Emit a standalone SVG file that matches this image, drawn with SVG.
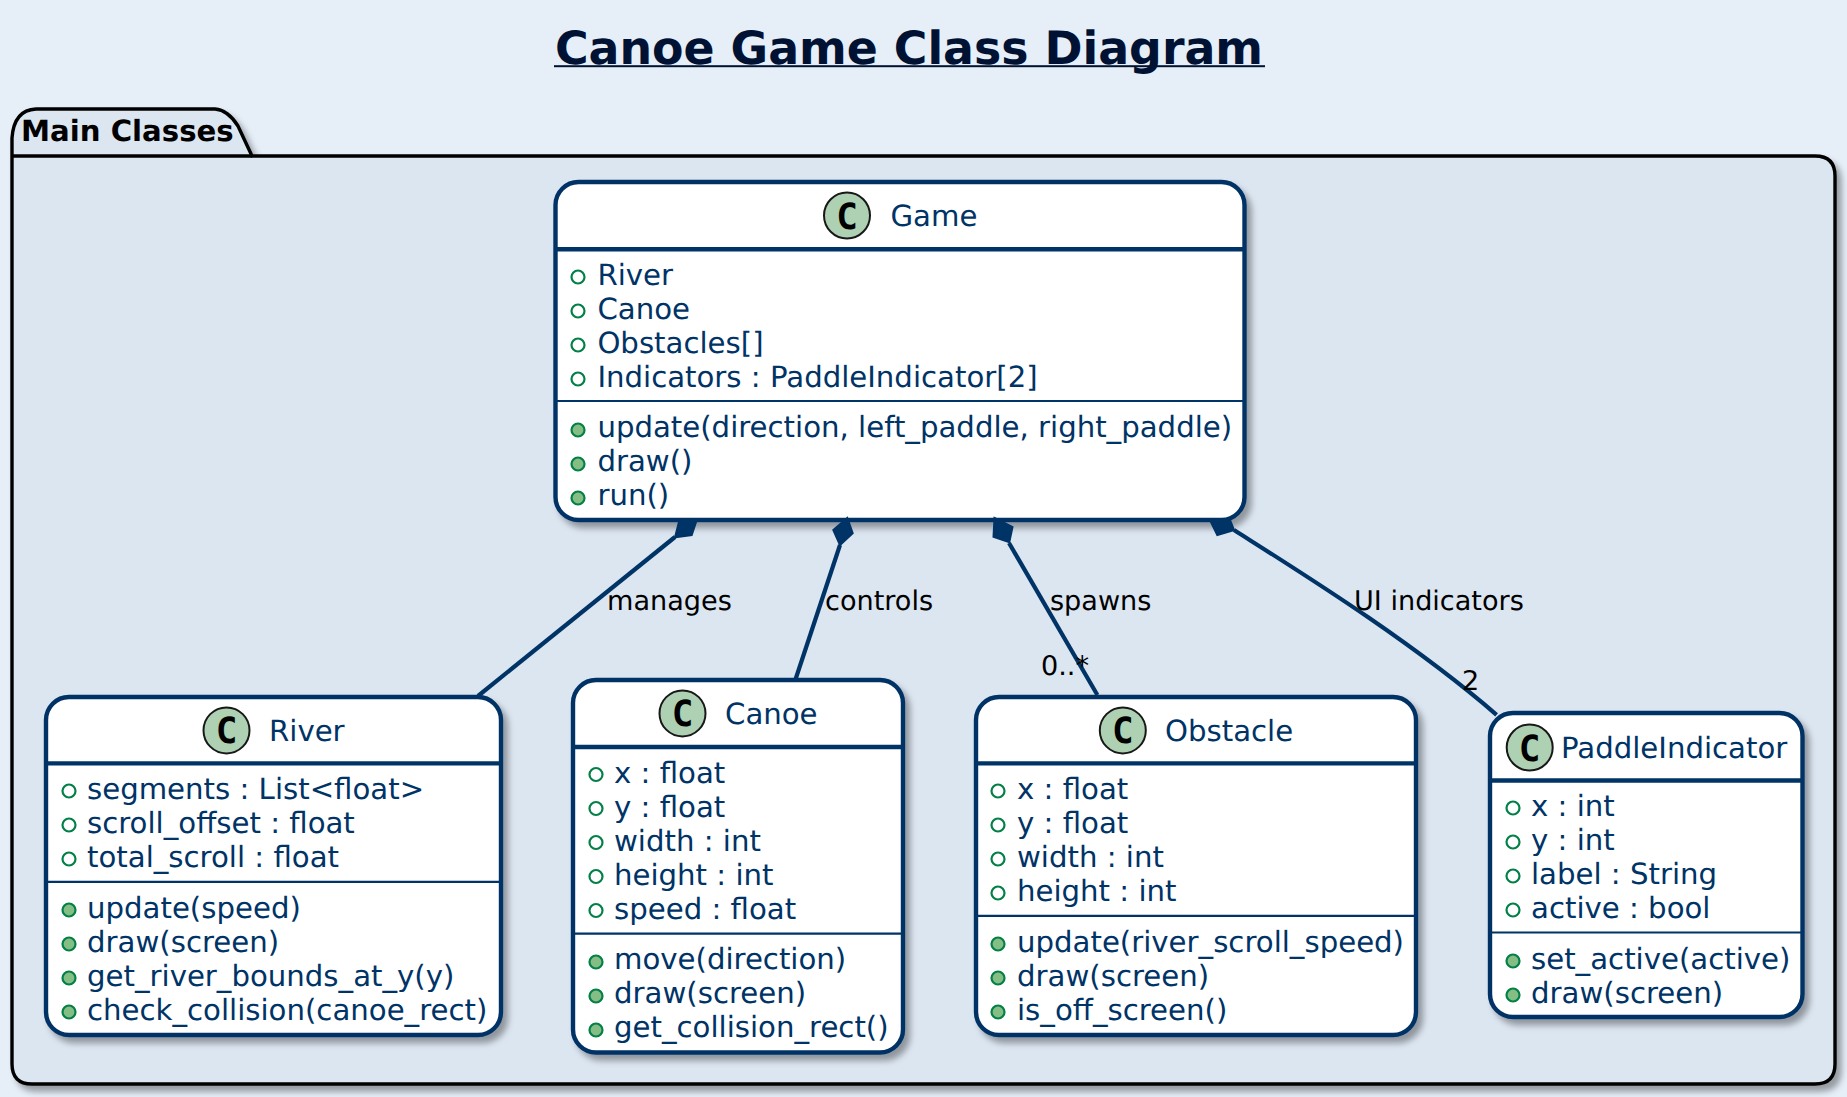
<svg xmlns="http://www.w3.org/2000/svg" width="1847" height="1097" viewBox="0 0 1847 1097">
<style>
text{font-family:"DejaVu Sans",sans-serif;text-rendering:geometricPrecision}
.box{fill:#fff;stroke:#003366;stroke-width:4.4;filter:url(#sh)}
.h{stroke:#003366;stroke-width:4.4}
.s{stroke:#003366;stroke-width:2.2}
.cc{fill:#ADD1B2;stroke:#181818;stroke-width:2}
.cl{font-size:36px;font-weight:bold;fill:#000;text-anchor:middle;font-family:"DejaVu Sans Mono",monospace}
.t{font-size:29.2px;fill:#003366}
.a{fill:none;stroke:#038048;stroke-width:2.2}
.m{fill:#84BE84;stroke:#038048;stroke-width:2.2}
.l{font-size:27.1px;fill:#000}
.c{fill:none;stroke:#003366;stroke-width:4.2}
.d{fill:#003366;stroke:#003366;stroke-width:2}
</style>
<defs>
<filter id="sh" x="-5%" y="-5%" width="110%" height="110%"><feDropShadow dx="5" dy="6" stdDeviation="3" flood-color="#000" flood-opacity="0.35"/></filter>
</defs>
<rect width="1847" height="1097" fill="#E6EEF8"/>
<g id="title">
<text x="555" y="63.5" font-size="45.8" font-weight="bold" fill="#001233">Canoe Game Class Diagram</text>
<rect x="554" y="65.2" width="711" height="2" fill="#001233"/>
</g>
<g id="package">
<path d="M12 156V138Q14 110 36 109H215Q228 110 238 126L252 156H1815Q1835 156 1835 176V1064Q1835 1084 1815 1084H32Q12 1084 12 1064Z" fill="#DCE6F1" stroke="#000" stroke-width="3.4" filter="url(#sh)"/>
<path d="M12 156H252" stroke="#000" stroke-width="3.4"/>
<text x="21" y="141" font-size="29.2" font-weight="bold" fill="#000">Main Classes</text>
</g>
<g id="Game">
<rect class="box" x="555.5" y="182" width="689" height="338" rx="23"/>
<path class="h" d="M555.5 249.3H1244.5"/><path class="s" d="M555.5 401H1244.5"/>
<circle class="cc" cx="847" cy="215.5" r="23"/><text class="cl" x="847" y="228.5">C</text>
<text class="t" x="890.5" y="226">Game</text>
<circle class="a" cx="578" cy="277" r="6.5"/><text class="t" x="597.4" y="285">River</text>
<circle class="a" cx="578" cy="311" r="6.5"/><text class="t" x="597.4" y="319">Canoe</text>
<circle class="a" cx="578" cy="345" r="6.5"/><text class="t" x="597.4" y="352.8">Obstacles[]</text>
<circle class="a" cx="578" cy="379" r="6.5"/><text class="t" x="597.4" y="386.8">Indicators : PaddleIndicator[2]</text>
<circle class="m" cx="578" cy="430" r="6.5"/><text class="t" x="597.4" y="437">update(direction, left_paddle, right_paddle)</text>
<circle class="m" cx="578" cy="464" r="6.5"/><text class="t" x="597.4" y="470.8">draw()</text>
<circle class="m" cx="578" cy="498" r="6.5"/><text class="t" x="597.4" y="504.7">run()</text>
</g>
<g id="River">
<rect class="box" x="46" y="697" width="455" height="338" rx="23"/>
<path class="h" d="M46 763.4H501"/><path class="s" d="M46 881.8H501"/>
<circle class="cc" cx="226.5" cy="730.4" r="23"/><text class="cl" x="226.5" y="743.4">C</text>
<text class="t" x="269" y="740.7">River</text>
<circle class="a" cx="69" cy="791" r="6.5"/><text class="t" x="87" y="798.7">segments : List&lt;float&gt;</text>
<circle class="a" cx="69" cy="825" r="6.5"/><text class="t" x="87" y="832.6">scroll_offset : float</text>
<circle class="a" cx="69" cy="859" r="6.5"/><text class="t" x="87" y="866.5">total_scroll : float</text>
<circle class="m" cx="69" cy="910" r="6.5"/><text class="t" x="87" y="918">update(speed)</text>
<circle class="m" cx="69" cy="944" r="6.5"/><text class="t" x="87" y="952">draw(screen)</text>
<circle class="m" cx="69" cy="978" r="6.5"/><text class="t" x="87" y="986">get_river_bounds_at_y(y)</text>
<circle class="m" cx="69" cy="1012" r="6.5"/><text class="t" x="87" y="1020">check_collision(canoe_rect)</text>
</g>
<g id="Canoe">
<rect class="box" x="573" y="680" width="330" height="372.5" rx="23"/>
<path class="h" d="M573 747H903"/><path class="s" d="M573 933.6H903"/>
<circle class="cc" cx="682.5" cy="713.4" r="23"/><text class="cl" x="682.5" y="726.4">C</text>
<text class="t" x="725" y="724">Canoe</text>
<circle class="a" cx="596" cy="774.5" r="6.5"/><text class="t" x="614" y="782.8">x : float</text>
<circle class="a" cx="596" cy="808.5" r="6.5"/><text class="t" x="614" y="816.8">y : float</text>
<circle class="a" cx="596" cy="842.5" r="6.5"/><text class="t" x="614" y="850.7">width : int</text>
<circle class="a" cx="596" cy="876.5" r="6.5"/><text class="t" x="614" y="884.7">height : int</text>
<circle class="a" cx="596" cy="910.5" r="6.5"/><text class="t" x="614" y="918.6">speed : float</text>
<circle class="m" cx="596" cy="962" r="6.5"/><text class="t" x="614" y="969.4">move(direction)</text>
<circle class="m" cx="596" cy="996" r="6.5"/><text class="t" x="614" y="1003.3">draw(screen)</text>
<circle class="m" cx="596" cy="1030" r="6.5"/><text class="t" x="614" y="1037.2">get_collision_rect()</text>
</g>
<g id="Obstacle">
<rect class="box" x="976" y="697" width="440" height="338" rx="23"/>
<path class="h" d="M976 763.4H1416"/><path class="s" d="M976 915.8H1416"/>
<circle class="cc" cx="1122.8" cy="730.4" r="23"/><text class="cl" x="1122.8" y="743.4">C</text>
<text class="t" x="1165" y="740.7">Obstacle</text>
<circle class="a" cx="998" cy="791" r="6.5"/><text class="t" x="1017" y="798.7">x : float</text>
<circle class="a" cx="998" cy="825" r="6.5"/><text class="t" x="1017" y="832.6">y : float</text>
<circle class="a" cx="998" cy="859" r="6.5"/><text class="t" x="1017" y="866.5">width : int</text>
<circle class="a" cx="998" cy="893" r="6.5"/><text class="t" x="1017" y="900.9">height : int</text>
<circle class="m" cx="998" cy="944" r="6.5"/><text class="t" x="1017" y="952">update(river_scroll_speed)</text>
<circle class="m" cx="998" cy="978" r="6.5"/><text class="t" x="1017" y="986">draw(screen)</text>
<circle class="m" cx="998" cy="1012" r="6.5"/><text class="t" x="1017" y="1020">is_off_screen()</text>
</g>
<g id="PaddleIndicator">
<rect class="box" x="1490" y="713" width="312.5" height="304" rx="23"/>
<path class="h" d="M1490 780.5H1802.5"/><path class="s" d="M1490 932.5H1802.5"/>
<circle class="cc" cx="1529.7" cy="747.5" r="23"/><text class="cl" x="1529.7" y="760.5">C</text>
<text class="t" x="1561" y="757.5">PaddleIndicator</text>
<circle class="a" cx="1513" cy="808" r="6.5"/><text class="t" x="1531" y="815.5">x : int</text>
<circle class="a" cx="1513" cy="842" r="6.5"/><text class="t" x="1531" y="849.5">y : int</text>
<circle class="a" cx="1513" cy="876" r="6.5"/><text class="t" x="1531" y="884">label : String</text>
<circle class="a" cx="1513" cy="910" r="6.5"/><text class="t" x="1531" y="918">active : bool</text>
<circle class="m" cx="1513" cy="961" r="6.5"/><text class="t" x="1531" y="969">set_active(active)</text>
<circle class="m" cx="1513" cy="995" r="6.5"/><text class="t" x="1531" y="1003">draw(screen)</text>
</g>
<g id="connectors">
<path class="c" d="M675 537L478 696"/>
<polygon class="d" points="696.7,520 691.7,535 675,537.3 679.5,520"/>
<path class="c" d="M840 545L795.3 680"/>
<polygon class="d" points="847.3,518 852.7,533.3 840,545 833.3,530"/>
<path class="c" d="M1009 543L1097.4 695"/>
<polygon class="d" points="994.5,518 1012.5,527 1009.3,542.3 993.5,536.7"/>
<path class="c" d="M1234 530C1300 572 1410 640 1496.6 714.8"/>
<polygon class="d" points="1210,520 1230,520 1234,530 1217.3,535"/>
<text class="l" x="607" y="609.5">manages</text>
<text class="l" x="825" y="609.5">controls</text>
<text class="l" x="1050" y="609.5">spawns</text>
<text class="l" x="1354" y="609.5">UI indicators</text>
<text class="l" x="1041" y="675">0..*</text>
<text class="l" x="1462" y="690">2</text>
</g>
</svg>
